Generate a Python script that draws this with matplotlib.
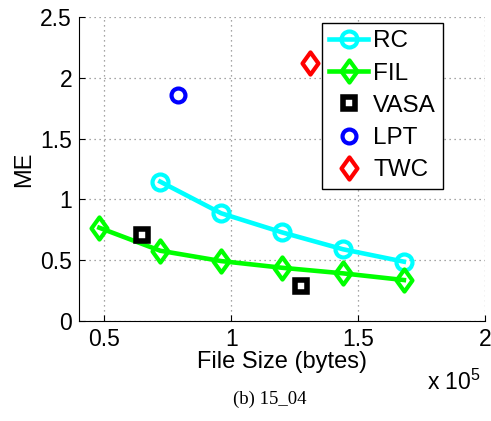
import matplotlib.pyplot as plt
import numpy as np
from matplotlib.path import Path

plt.rcParams['font.family'] = ['Liberation Sans', 'DejaVu Sans']
plt.rcParams['mathtext.fontset'] = 'custom'
plt.rcParams['mathtext.rm'] = 'Liberation Sans'

# file sizes in units of 1e5 bytes
rc_x = [0.72, 0.96, 1.20, 1.44, 1.68]
rc_y = [1.146, 0.886, 0.729, 0.59, 0.488]
fil_x = [0.48, 0.72, 0.96, 1.20, 1.44, 1.68]
fil_y = [0.767, 0.578, 0.493, 0.438, 0.392, 0.337]
vasa_x = [0.648, 1.275]
vasa_y = [0.705, 0.29]
lpt_x = [0.789]
lpt_y = [1.858]
twc_x = [1.31]
twc_y = [2.119]

# matlab-like narrow diamond
diamond = Path([(0, 1), (0.72, 0), (0, -1), (-0.72, 0), (0, 1)],
               [Path.MOVETO, Path.LINETO, Path.LINETO, Path.LINETO, Path.CLOSEPOLY])

fig = plt.figure(figsize=(4.91, 4.21), dpi=100)
ax = fig.add_axes([0.161, 0.2375, 0.827, 0.722])

ax.plot(rc_x, rc_y, color='#00ffff', lw=3.3, marker='o', ms=11.5, mfc='none', mew=3, label='RC')
ax.plot(fil_x, fil_y, color='#00ff00', lw=3.3, marker=diamond, ms=16, mfc='none', mew=3, label='FIL')
ax.plot(vasa_x, vasa_y, ls='none', color='black', marker='s', ms=8.5, mfc='white', mew=4, label='VASA')
ax.plot(lpt_x, lpt_y, ls='none', color='#0000ff', marker='o', ms=10, mfc='none', mew=3, label='LPT')
ax.plot(twc_x, twc_y, ls='none', color='#ff0000', marker=diamond, ms=16, mfc='none', mew=3, label='TWC')

ax.set_xlim(0.4, 2.0)
ax.set_ylim(0, 2.5)
ax.set_xticks([0.5, 1, 1.5, 2])
ax.set_xticklabels(['0.5', '1', '1.5', '2'])
ax.set_yticks([0, 0.5, 1, 1.5, 2, 2.5])
ax.set_yticklabels(['0', '0.5', '1', '1.5', '2', '2.5'])
ax.tick_params(direction='in', labelsize=16.5, length=4, pad=5)
ax.grid(True, ls=(0, (1, 3)), color='#888888', lw=0.9)
ax.spines['top'].set_visible(False)
ax.spines['right'].set_visible(False)

ax.set_xlabel('File Size (bytes)', fontsize=17, labelpad=0)
ax.set_ylabel('ME', fontsize=17, labelpad=4)
ax.text(0.856, -0.2, 'x 10$^5$', transform=ax.transAxes, fontsize=16.5, ha='left', va='center')

leg = ax.legend(loc='upper left', bbox_to_anchor=(0.5985, 0.98), fontsize=17.5, frameon=True,
                fancybox=False, edgecolor='black', framealpha=1, handlelength=1.6,
                handletextpad=0.2, borderpad=0.3, borderaxespad=0, labelspacing=0.42)
leg.get_frame().set_linewidth(1.0)

fig.text(0.55, 0.04, '(b) 15_04', family='Liberation Serif', fontsize=13.5, ha='center')

fig.savefig('out.png', dpi=100)
